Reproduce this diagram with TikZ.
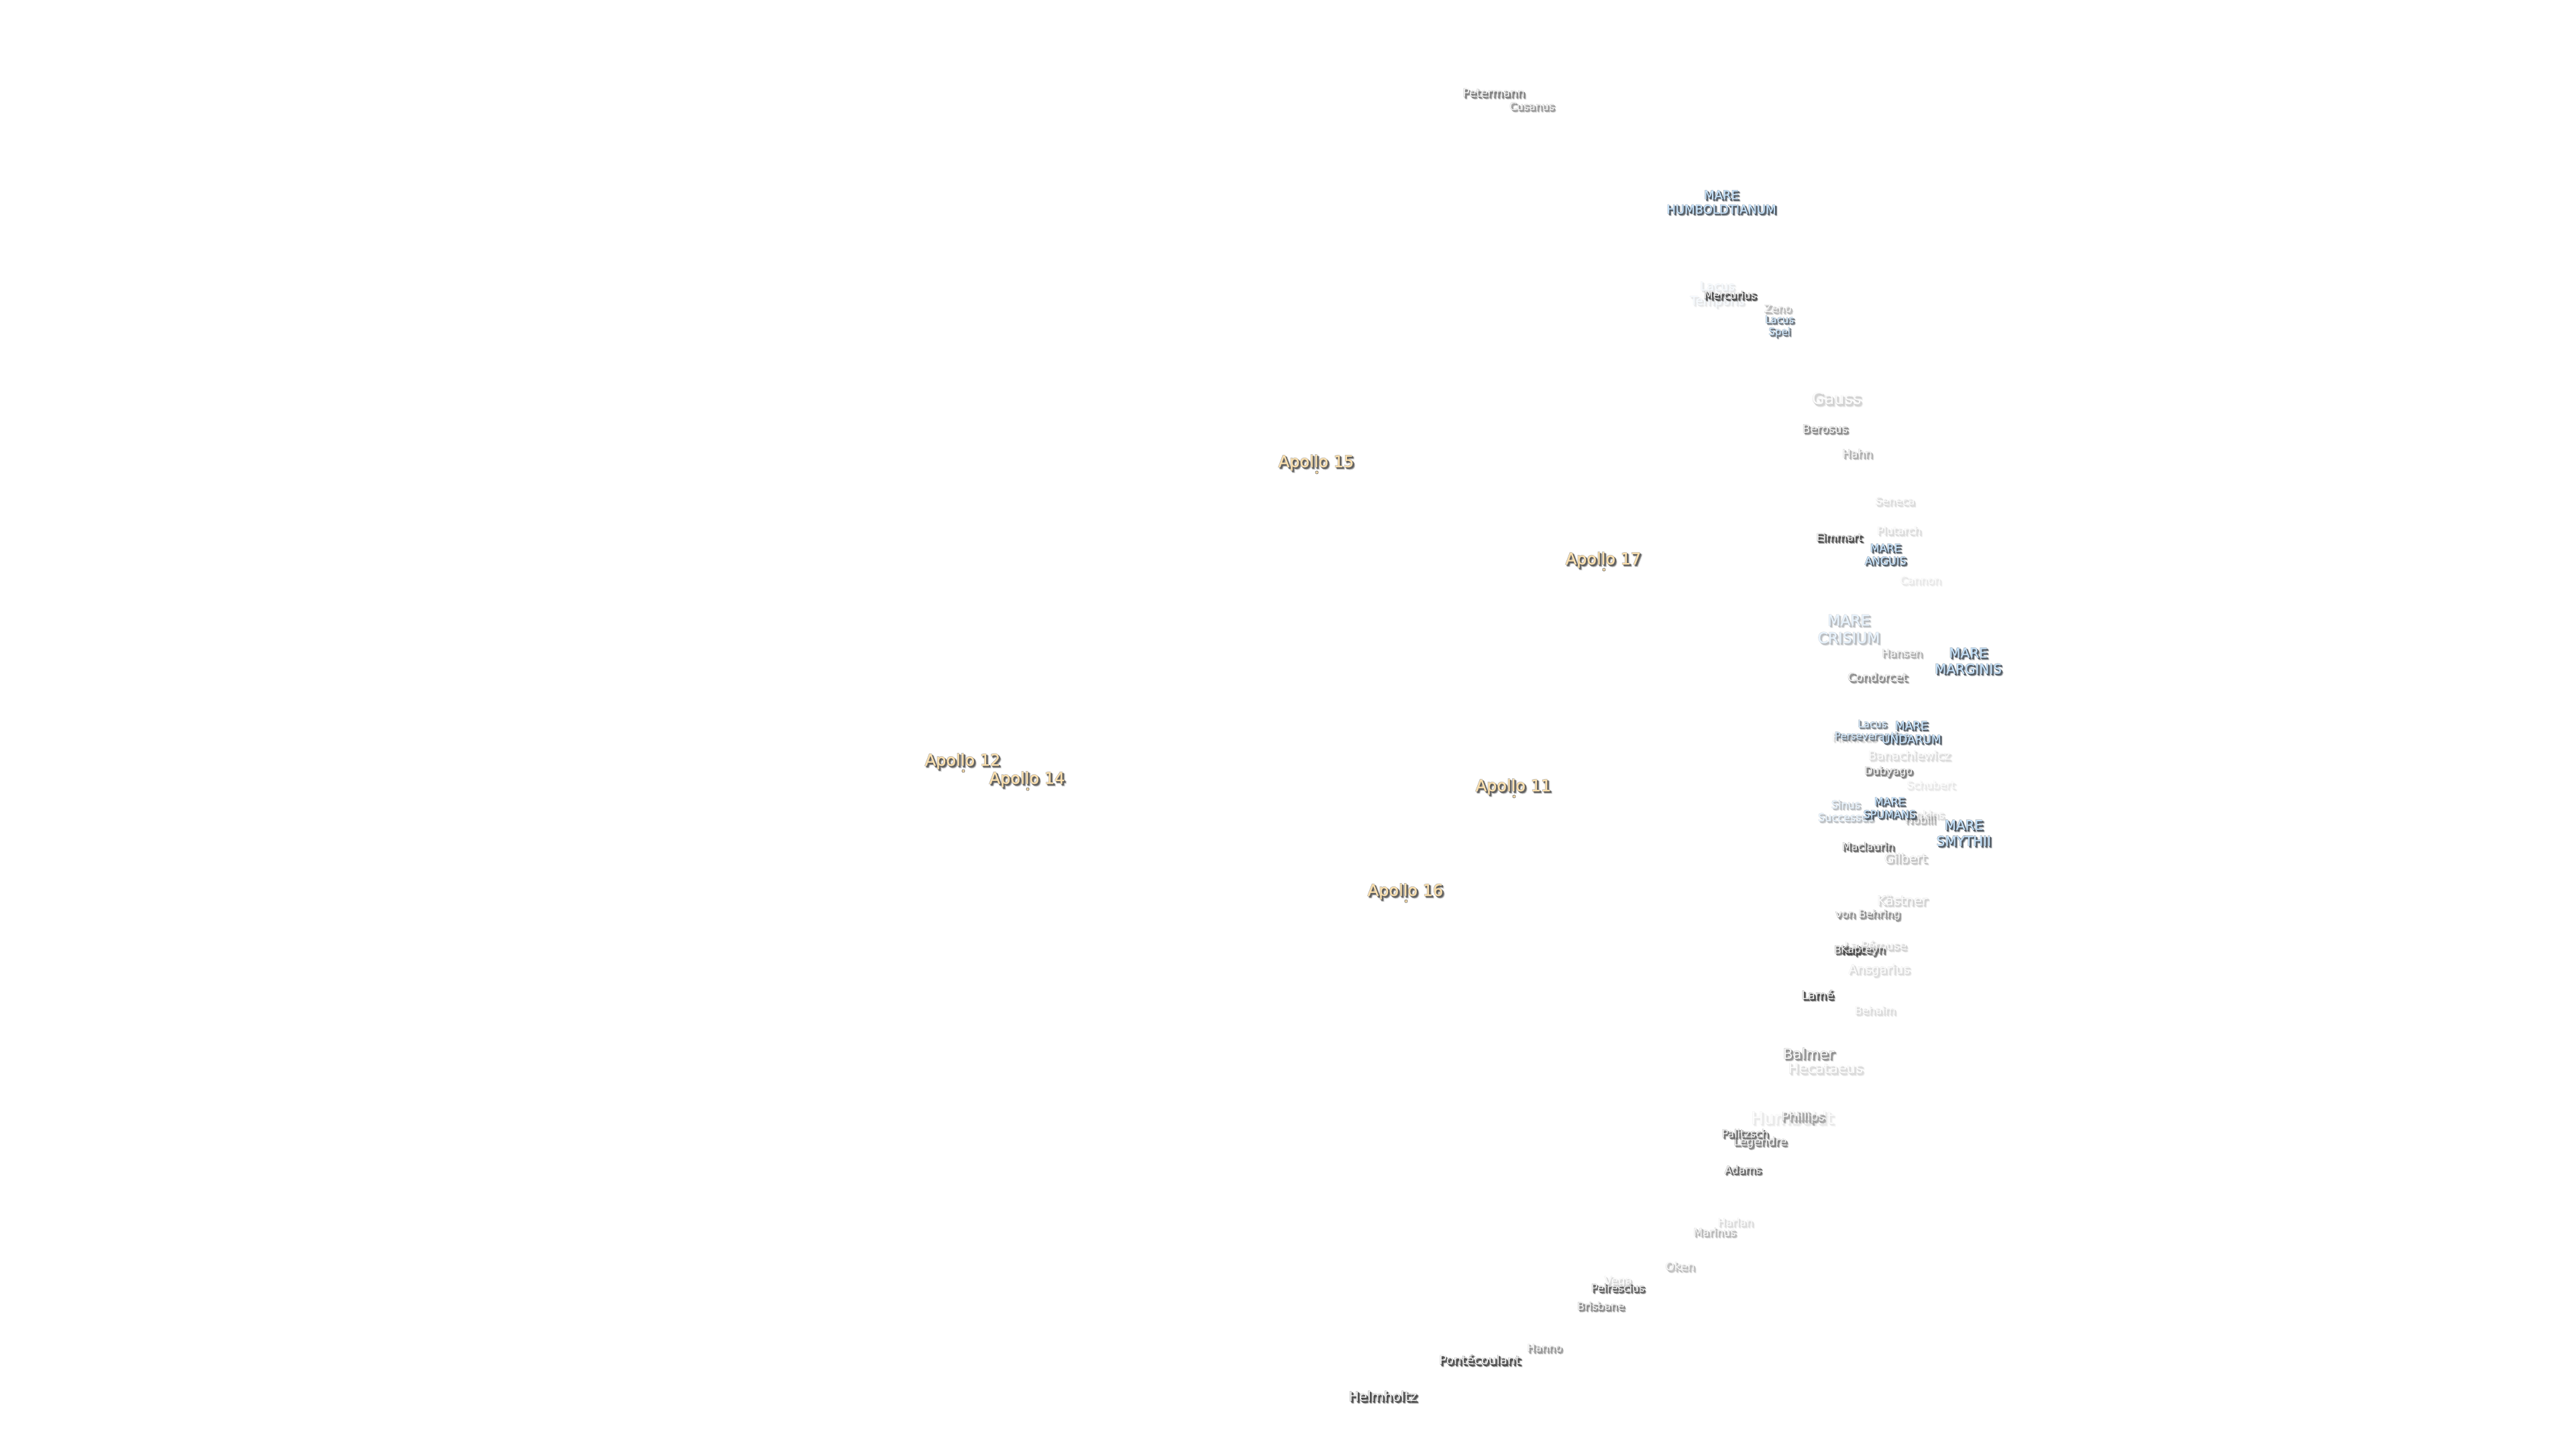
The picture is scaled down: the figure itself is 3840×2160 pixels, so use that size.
\documentclass[tikz,border=0pt]{standalone}
\usepackage{fontspec}
\setmainfont{DejaVu Sans}
\newfontfamily\boldishfont[FakeBold=5]{DejaVu Sans}
\newfontfamily\heavyfont[FakeBold=9]{DejaVu Sans}
\newfontfamily\slightfont[FakeBold=1]{DejaVu Sans}
\newfontfamily\thinfont{DejaVu Sans}
\definecolor{marefill}{HTML}{C6E2FA}
\definecolor{apollofill}{HTML}{FBE0AE}
\definecolor{craterfill}{HTML}{F6F6F6}
\definecolor{mareedge}{HTML}{38424C}
\definecolor{apolloedge}{HTML}{484848}
\definecolor{crateredge}{HTML}{383838}
\tikzset{
  lbltext/.style={inner sep=0pt,outer sep=0pt,anchor=center,align=center,text depth=0pt},
  apollodot/.style={circle,inner sep=0pt,minimum size=2.2pt,fill=apollofill,draw=apolloedge,line width=.25pt}
}
% id, x, y, size(px), opacity, fill, edge, text
\newcommand{\lbl}[8]{%
  \begin{scope}[transparency group,opacity=#5]
    \edef\lblfs{\fpeval{#4/2}pt}\edef\lblbs{\fpeval{#4*1.19/2}pt}%
    \node[lbltext,text=#7,opacity=.2,font={\heavyfont\fontsize{\lblfs}{\lblbs}\selectfont}] (#1-a) at (#2+2,#3+2) {#8};
    \node[lbltext,text=#7,opacity=.35,font={\boldishfont\fontsize{\lblfs}{\lblbs}\selectfont}] (#1-b) at (#2+1.5,#3+1.5) {#8};
    \node[lbltext,text=#7,opacity=.55,font={\boldishfont\fontsize{\lblfs}{\lblbs}\selectfont}] (#1-c) at (#2+.6,#3+.6) {#8};
    \node[lbltext,text=#7,opacity=.35,font={\boldishfont\fontsize{\lblfs}{\lblbs}\selectfont}] (#1-d) at (#2-1.2,#3-1.2) {#8};
    \node[lbltext,text=#6,font={\fillfam\fontsize{\lblfs}{\lblbs}\selectfont}] (#1) at (#2-1,#3-1) {#8};
  \end{scope}}
\newcommand{\crater}[6][1]{\let\fillfam\thinfont\lbl{#2}{#3}{#4}{#5}{#1}{craterfill}{crateredge}{#6}}
\newcommand{\mare}[6][1]{\let\fillfam\slightfont\lbl{#2}{#3}{#4}{#5}{#1}{marefill}{mareedge}{#6}}
\newcommand{\apollo}[5]{%
  \node[apollodot] (#1-dot) at (#2,#3+16) {};
  \let\fillfam\slightfont\lbl{#1}{#2}{#3}{24}{1}{apollofill}{apolloedge}{#4}}
\begin{document}
\begin{tikzpicture}[x=.5pt,y=-.5pt]
\useasboundingbox (0,0) rectangle (3840,2160);
\fill[white] (0,0) rectangle (3840,2160);
% faint labels first
\crater[.12]{humboldt}{2672.8}{1666.7}{25}{Humboldt}
\crater[.13]{cannon}{2863.8}{865.7}{16}{Cannon}
\crater[.13]{schubert}{2879.3}{1170.7}{16}{Schubert}
\mare[.14]{temporis}{2561}{438}{18}{Lacus\\Temporis}
\crater[.2]{seneca}{2826}{748}{16}{Seneca}
\crater[.2]{plutarch}{2832}{791.7}{16}{Plutarch}
\crater[.2]{harlan}{2588}{1822.3}{16}{Harlan}
\crater[.2]{behaim}{2796.3}{1506.7}{16}{Behaim}
\crater[.2]{banach}{2847.3}{1126.7}{18}{Banachiewicz}
\crater[.2]{ansgarius}{2802.5}{1445}{18.5}{Ansgarius}
\crater[.2]{hecataeus}{2722.5}{1593.3}{21}{Hecataeus}
\crater[.2]{jenkins}{2871}{1215}{16}{Jenkins}
\crater[.22]{vega}{2413.3}{1909.3}{16.5}{Vega}
\crater[.22]{firmicus}{2765}{1099.3}{16}{Firmicus}
\crater[.25]{gauss}{2738.8}{595}{24}{Gauss}
\crater[.25]{kastner}{2836.7}{1342.7}{19.5}{Kästner}
\crater[.25]{perouse}{2797}{1410}{17}{La Pérouse}
\crater[.33]{gilbert}{2841.7}{1280}{18.7}{Gilbert}
\crater[.36]{oken}{2505.5}{1888.3}{17}{Oken}
\mare[.4]{crisium}{2757}{938.3}{22}{MARE\\CRISIUM}
\mare[.4]{successus}{2752.5}{1209.2}{16}{Sinus\\Successus}
\crater[.4]{nobili}{2863.7}{1222.3}{16}{Nobili}
\crater[.4]{marinus}{2557}{1837}{16}{Marinus}
\crater[.4]{zeno}{2651.3}{461}{16}{Zeno}
\crater[.45]{hansen}{2836.3}{974.3}{16}{Hansen}
\crater[.45]{hahn}{2769.7}{676.7}{17}{Hahn}
\crater[.5]{phillips}{2688.8}{1665}{18.3}{Phillips}
\crater[.58]{hanno}{2303.6}{2010}{16}{Hanno}
\crater[.58]{cusanus}{2284.6}{159.3}{15.7}{Cusanus}
\crater[.62]{vonbehring}{2785.5}{1362.7}{16}{von Behring}
\crater[.62]{balmer}{2697.2}{1571}{21.3}{Balmer}
\crater[.65]{condorcet}{2799.7}{1010}{17.3}{Condorcet}
\crater[.65]{brisbane}{2387.2}{1947.3}{16}{Brisbane}
\crater[.65]{berosus}{2721.7}{640}{17}{Berosus}
\crater[.7]{legendre}{2624.8}{1701.7}{17}{Legendre}
\crater[.72]{petermann}{2227.7}{139.3}{17}{Petermann}
\crater[.74]{dubyago}{2816.3}{1149.3}{16}{Dubyago}
\mare[.75]{persever}{2792}{1088.4}{15}{Lacus\\Perseverantiae}
\crater[.82]{palitzsch}{2602.3}{1690}{16}{Palitzsch}
\crater[.85]{black}{2756.7}{1416}{16}{Black}
\crater[.85]{kapteyn}{2778}{1416}{16}{Kapteyn}
\crater[.85]{maclaurin}{2785.8}{1262.3}{16}{Maclaurin}
\crater[.85]{adams}{2599.2}{1744}{16}{Adams}
\crater[.9]{peirescius}{2412.7}{1920}{16}{Peirescius}
\mare[.85]{spei}{2653.6}{485.8}{15}{Lacus\\Spei}
% strong labels
\crater{eimmart}{2742.7}{801.7}{16}{Eimmart}
\crater{mercurius}{2580}{440.7}{16}{Mercurius}
\crater{lame}{2710.5}{1483.3}{17.3}{Lamé}
\crater{pontecoulant}{2206.8}{2027.3}{18.5}{Pontécoulant}
\crater{helmholtz}{2062.5}{2081.7}{20}{Helmholtz}
\mare{humboldtianum}{2567}{302}{18}{MARE\\HUMBOLDTIANUM}
\mare{anguis}{2811.7}{827}{16}{MARE\\ANGUIS}
\mare{marginis}{2935}{985.7}{20}{MARE\\MARGINIS}
\mare{undarum}{2850.3}{1092.2}{17}{MARE\\UNDARUM}
\mare{spumans}{2817.8}{1204.8}{16}{MARE\\SPUMANS}
\mare{smythii}{2928.3}{1242.3}{20}{MARE\\SMYTHII}
% Apollo sites
\apollo{a15}{1963}{688}{Apollo 15}{}
\apollo{a17}{2391}{833}{Apollo 17}{}
\apollo{a12}{1436}{1133}{Apollo 12}{}
\apollo{a14}{1532}{1160}{Apollo 14}{}
\apollo{a11}{2257}{1171}{Apollo 11}{}
\apollo{a16}{2096}{1327}{Apollo 16}{}
\end{tikzpicture}
\end{document}
